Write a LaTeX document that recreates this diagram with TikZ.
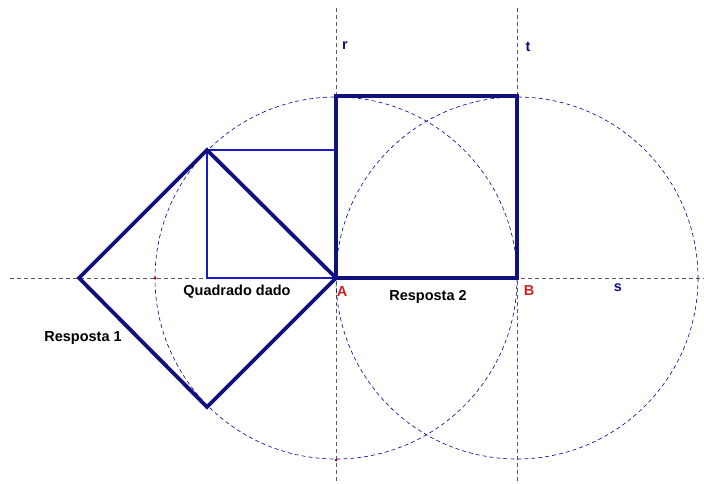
\documentclass[tikz,border=0pt]{standalone}
\usepackage{fontspec}
\setmainfont{Liberation Sans}
\begin{document}
\begin{tikzpicture}[x=1pt,y=-1pt,
  construct/.style={dash pattern=on 4pt off 3pt, line width=0.7pt, color=gray!70!black},
  circ/.style={dash pattern=on 4pt off 3pt, line width=0.6pt, color=blue!60!black},
  answer/.style={line width=3.8pt, color=navy, line join=miter},
  given/.style={line width=2.2pt, color=royal},
  lbl/.style={font=\bfseries\fontsize{14.5}{16}\selectfont, inner sep=0pt},
  pt/.style={circle, fill=red!70!black, inner sep=0pt, minimum size=3pt}]
\definecolor{navy}{HTML}{10107F}
\definecolor{royal}{HTML}{1A1AC8}
\definecolor{ptred}{HTML}{D02020}
\useasboundingbox (0,0) rectangle (704,484);
\fill[white] (0,0) rectangle (704,484);
% points
\coordinate (A) at (336,278);
\coordinate (B) at (517,278);
\coordinate (G1) at (207,150);
\coordinate (G2) at (336,150);
\coordinate (G4) at (207,278);
\coordinate (D3) at (207,407);
\coordinate (D4) at (79,278);
\coordinate (S1) at (336,96);
\coordinate (S2) at (517,96);
\coordinate (sL) at (10,278);
\coordinate (sR) at (704,278);
\coordinate (rT) at (336,8);
\coordinate (rB) at (336,484);
\coordinate (tT) at (517,8);
\coordinate (tB) at (517,484);
% construction lines
\draw[construct] (sL) -- (sR);
\draw[construct] (rT) -- (rB);
\draw[construct] (tT) -- (tB);
\draw[circ] (A) circle[radius=181];
\draw[circ] (B) circle[radius=181];
% given square
\draw[given] (G1) -- (G2);
\draw[given] (G1) -- (G4) -- (A);
% answer 2
\draw[answer] (A) -- (S1) -- (S2) -- (B) -- cycle;
% answer 1
\draw[answer] (G1) -- (A) -- (D3) -- (D4) -- cycle;
% marked points
\node[pt] (P1) at (155,278) {};
\node[pt] (P2) at (336,460) {};
% labels
\node[lbl] (qd) at (237,292) {Quadrado dado};
\node[lbl, text=ptred] (la) at (342,292) {A};
\node[lbl] (r2) at (428,297) {Resposta 2};
\node[lbl, text=ptred] (lb) at (529,291) {B};
\node[lbl, text=navy] (ls) at (618,288) {s};
\node[lbl, text=navy] (lr) at (345,46) {r};
\node[lbl, text=navy] (lt) at (528,47) {t};
\node[lbl] (r1) at (83,338) {Resposta 1};
\end{tikzpicture}
\end{document}
